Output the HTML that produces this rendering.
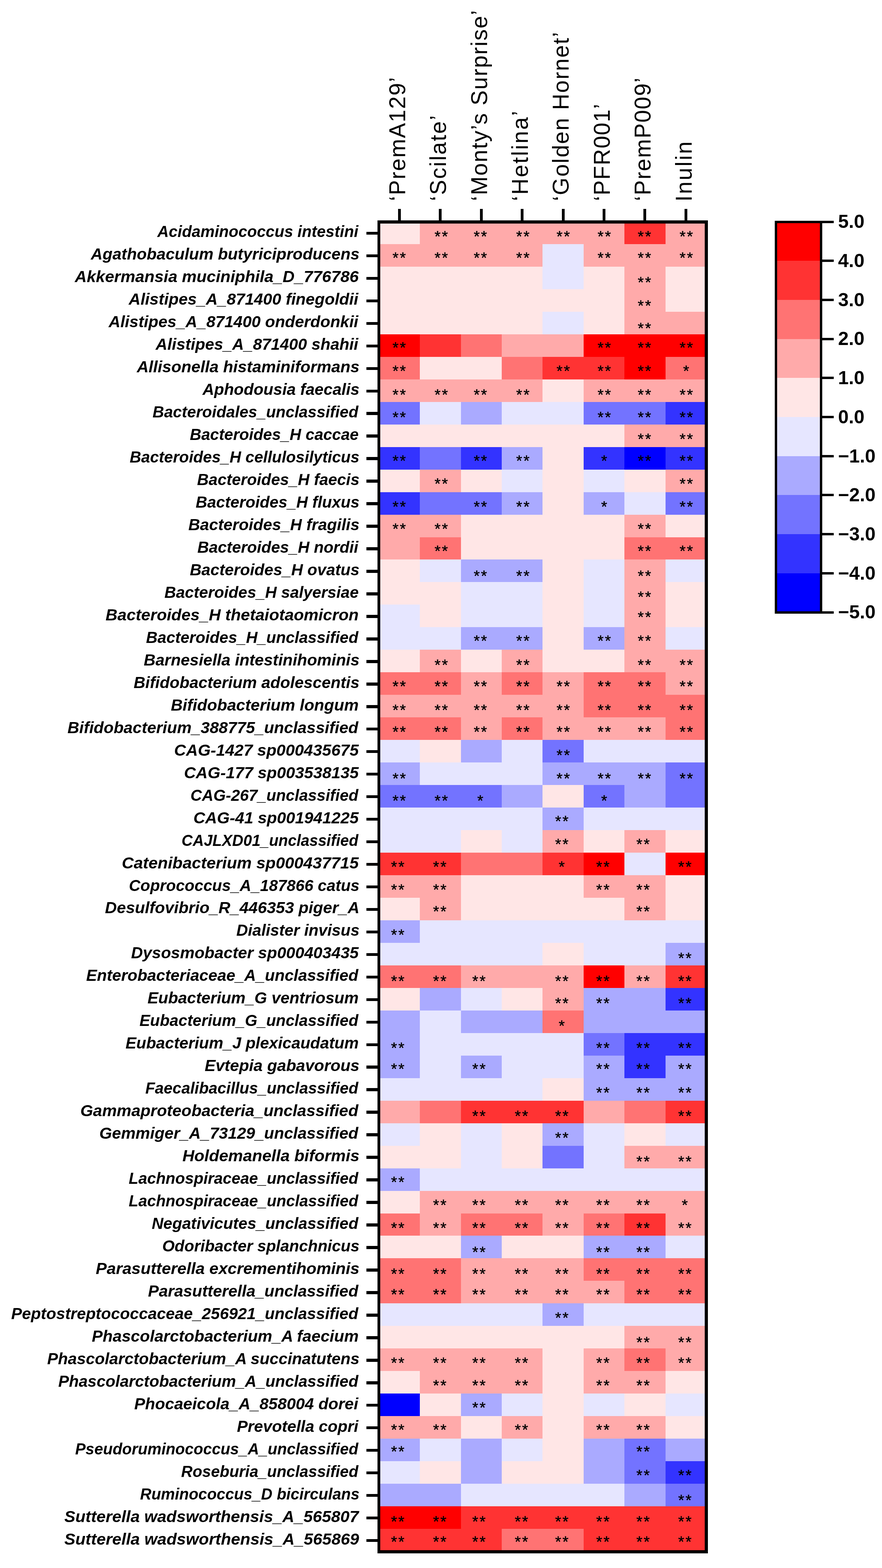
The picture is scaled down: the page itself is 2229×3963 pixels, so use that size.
<!DOCTYPE html><html><head><meta charset="utf-8"><title>Heatmap</title><style>html,body{margin:0;padding:0;background:#fff}body{width:2229px;height:3963px;overflow:hidden}svg{display:block}text{white-space:pre}</style></head><body>
<svg width="2229" height="3963" viewBox="0 0 2229 3963">
<rect width="2229" height="3963" fill="#fff"/>
<g shape-rendering="crispEdges"><rect x="958" y="560" width="103" height="57" fill="#FFE6E6"/><rect x="1061" y="560" width="104" height="57" fill="#FFAAAA"/><rect x="1165" y="560" width="103" height="57" fill="#FFAAAA"/><rect x="1268" y="560" width="103" height="57" fill="#FFAAAA"/><rect x="1371" y="560" width="104" height="57" fill="#FFAAAA"/><rect x="1475" y="560" width="103" height="57" fill="#FFAAAA"/><rect x="1578" y="560" width="104" height="57" fill="#FF3333"/><rect x="1682" y="560" width="103" height="57" fill="#FFAAAA"/><rect x="958" y="617" width="103" height="57" fill="#FFAAAA"/><rect x="1061" y="617" width="104" height="57" fill="#FFAAAA"/><rect x="1165" y="617" width="103" height="57" fill="#FFAAAA"/><rect x="1268" y="617" width="103" height="57" fill="#FFAAAA"/><rect x="1371" y="617" width="104" height="57" fill="#E6E6FF"/><rect x="1475" y="617" width="103" height="57" fill="#FFAAAA"/><rect x="1578" y="617" width="104" height="57" fill="#FFAAAA"/><rect x="1682" y="617" width="103" height="57" fill="#FFAAAA"/><rect x="958" y="674" width="103" height="57" fill="#FFE6E6"/><rect x="1061" y="674" width="104" height="57" fill="#FFE6E6"/><rect x="1165" y="674" width="103" height="57" fill="#FFE6E6"/><rect x="1268" y="674" width="103" height="57" fill="#FFE6E6"/><rect x="1371" y="674" width="104" height="57" fill="#E6E6FF"/><rect x="1475" y="674" width="103" height="57" fill="#FFE6E6"/><rect x="1578" y="674" width="104" height="57" fill="#FFAAAA"/><rect x="1682" y="674" width="103" height="57" fill="#FFE6E6"/><rect x="958" y="731" width="103" height="57" fill="#FFE6E6"/><rect x="1061" y="731" width="104" height="57" fill="#FFE6E6"/><rect x="1165" y="731" width="103" height="57" fill="#FFE6E6"/><rect x="1268" y="731" width="103" height="57" fill="#FFE6E6"/><rect x="1371" y="731" width="104" height="57" fill="#FFE6E6"/><rect x="1475" y="731" width="103" height="57" fill="#FFE6E6"/><rect x="1578" y="731" width="104" height="57" fill="#FFAAAA"/><rect x="1682" y="731" width="103" height="57" fill="#FFE6E6"/><rect x="958" y="788" width="103" height="57" fill="#FFE6E6"/><rect x="1061" y="788" width="104" height="57" fill="#FFE6E6"/><rect x="1165" y="788" width="103" height="57" fill="#FFE6E6"/><rect x="1268" y="788" width="103" height="57" fill="#FFE6E6"/><rect x="1371" y="788" width="104" height="57" fill="#E6E6FF"/><rect x="1475" y="788" width="103" height="57" fill="#FFE6E6"/><rect x="1578" y="788" width="104" height="57" fill="#FFAAAA"/><rect x="1682" y="788" width="103" height="57" fill="#FFAAAA"/><rect x="958" y="845" width="103" height="57" fill="#FF0000"/><rect x="1061" y="845" width="104" height="57" fill="#FF3333"/><rect x="1165" y="845" width="103" height="57" fill="#FF7373"/><rect x="1268" y="845" width="103" height="57" fill="#FFAAAA"/><rect x="1371" y="845" width="104" height="57" fill="#FFAAAA"/><rect x="1475" y="845" width="103" height="57" fill="#FF0000"/><rect x="1578" y="845" width="104" height="57" fill="#FF0000"/><rect x="1682" y="845" width="103" height="57" fill="#FF0000"/><rect x="958" y="902" width="103" height="57" fill="#FF7373"/><rect x="1061" y="902" width="104" height="57" fill="#FFE6E6"/><rect x="1165" y="902" width="103" height="57" fill="#FFE6E6"/><rect x="1268" y="902" width="103" height="57" fill="#FF7373"/><rect x="1371" y="902" width="104" height="57" fill="#FF3333"/><rect x="1475" y="902" width="103" height="57" fill="#FF3333"/><rect x="1578" y="902" width="104" height="57" fill="#FF0000"/><rect x="1682" y="902" width="103" height="57" fill="#FF7373"/><rect x="958" y="959" width="103" height="57" fill="#FFAAAA"/><rect x="1061" y="959" width="104" height="57" fill="#FFAAAA"/><rect x="1165" y="959" width="103" height="57" fill="#FFAAAA"/><rect x="1268" y="959" width="103" height="57" fill="#FFAAAA"/><rect x="1371" y="959" width="104" height="57" fill="#FFE6E6"/><rect x="1475" y="959" width="103" height="57" fill="#FFAAAA"/><rect x="1578" y="959" width="104" height="57" fill="#FFAAAA"/><rect x="1682" y="959" width="103" height="57" fill="#FFAAAA"/><rect x="958" y="1016" width="103" height="57" fill="#7373FF"/><rect x="1061" y="1016" width="104" height="57" fill="#E6E6FF"/><rect x="1165" y="1016" width="103" height="57" fill="#AAAAFF"/><rect x="1268" y="1016" width="103" height="57" fill="#E6E6FF"/><rect x="1371" y="1016" width="104" height="57" fill="#E6E6FF"/><rect x="1475" y="1016" width="103" height="57" fill="#7373FF"/><rect x="1578" y="1016" width="104" height="57" fill="#7373FF"/><rect x="1682" y="1016" width="103" height="57" fill="#3333FF"/><rect x="958" y="1073" width="103" height="57" fill="#FFE6E6"/><rect x="1061" y="1073" width="104" height="57" fill="#FFE6E6"/><rect x="1165" y="1073" width="103" height="57" fill="#FFE6E6"/><rect x="1268" y="1073" width="103" height="57" fill="#FFE6E6"/><rect x="1371" y="1073" width="104" height="57" fill="#FFE6E6"/><rect x="1475" y="1073" width="103" height="57" fill="#FFE6E6"/><rect x="1578" y="1073" width="104" height="57" fill="#FFAAAA"/><rect x="1682" y="1073" width="103" height="57" fill="#FFAAAA"/><rect x="958" y="1130" width="103" height="57" fill="#3333FF"/><rect x="1061" y="1130" width="104" height="57" fill="#7373FF"/><rect x="1165" y="1130" width="103" height="57" fill="#3333FF"/><rect x="1268" y="1130" width="103" height="57" fill="#AAAAFF"/><rect x="1371" y="1130" width="104" height="57" fill="#FFE6E6"/><rect x="1475" y="1130" width="103" height="57" fill="#3333FF"/><rect x="1578" y="1130" width="104" height="57" fill="#0000FF"/><rect x="1682" y="1130" width="103" height="57" fill="#3333FF"/><rect x="958" y="1187" width="103" height="57" fill="#FFE6E6"/><rect x="1061" y="1187" width="104" height="57" fill="#FFAAAA"/><rect x="1165" y="1187" width="103" height="57" fill="#FFE6E6"/><rect x="1268" y="1187" width="103" height="57" fill="#E6E6FF"/><rect x="1371" y="1187" width="104" height="57" fill="#FFE6E6"/><rect x="1475" y="1187" width="103" height="57" fill="#E6E6FF"/><rect x="1578" y="1187" width="104" height="57" fill="#FFE6E6"/><rect x="1682" y="1187" width="103" height="57" fill="#FFAAAA"/><rect x="958" y="1244" width="103" height="57" fill="#3333FF"/><rect x="1061" y="1244" width="104" height="57" fill="#7373FF"/><rect x="1165" y="1244" width="103" height="57" fill="#7373FF"/><rect x="1268" y="1244" width="103" height="57" fill="#AAAAFF"/><rect x="1371" y="1244" width="104" height="57" fill="#FFE6E6"/><rect x="1475" y="1244" width="103" height="57" fill="#AAAAFF"/><rect x="1578" y="1244" width="104" height="57" fill="#E6E6FF"/><rect x="1682" y="1244" width="103" height="57" fill="#7373FF"/><rect x="958" y="1301" width="103" height="57" fill="#FFAAAA"/><rect x="1061" y="1301" width="104" height="57" fill="#FFAAAA"/><rect x="1165" y="1301" width="103" height="57" fill="#FFE6E6"/><rect x="1268" y="1301" width="103" height="57" fill="#FFE6E6"/><rect x="1371" y="1301" width="104" height="57" fill="#FFE6E6"/><rect x="1475" y="1301" width="103" height="57" fill="#FFE6E6"/><rect x="1578" y="1301" width="104" height="57" fill="#FFAAAA"/><rect x="1682" y="1301" width="103" height="57" fill="#FFE6E6"/><rect x="958" y="1358" width="103" height="56" fill="#FFAAAA"/><rect x="1061" y="1358" width="104" height="56" fill="#FF7373"/><rect x="1165" y="1358" width="103" height="56" fill="#FFE6E6"/><rect x="1268" y="1358" width="103" height="56" fill="#FFE6E6"/><rect x="1371" y="1358" width="104" height="56" fill="#FFE6E6"/><rect x="1475" y="1358" width="103" height="56" fill="#FFE6E6"/><rect x="1578" y="1358" width="104" height="56" fill="#FF7373"/><rect x="1682" y="1358" width="103" height="56" fill="#FF7373"/><rect x="958" y="1414" width="103" height="57" fill="#FFE6E6"/><rect x="1061" y="1414" width="104" height="57" fill="#E6E6FF"/><rect x="1165" y="1414" width="103" height="57" fill="#AAAAFF"/><rect x="1268" y="1414" width="103" height="57" fill="#AAAAFF"/><rect x="1371" y="1414" width="104" height="57" fill="#FFE6E6"/><rect x="1475" y="1414" width="103" height="57" fill="#E6E6FF"/><rect x="1578" y="1414" width="104" height="57" fill="#FFAAAA"/><rect x="1682" y="1414" width="103" height="57" fill="#E6E6FF"/><rect x="958" y="1471" width="103" height="57" fill="#FFE6E6"/><rect x="1061" y="1471" width="104" height="57" fill="#FFE6E6"/><rect x="1165" y="1471" width="103" height="57" fill="#E6E6FF"/><rect x="1268" y="1471" width="103" height="57" fill="#E6E6FF"/><rect x="1371" y="1471" width="104" height="57" fill="#FFE6E6"/><rect x="1475" y="1471" width="103" height="57" fill="#E6E6FF"/><rect x="1578" y="1471" width="104" height="57" fill="#FFAAAA"/><rect x="1682" y="1471" width="103" height="57" fill="#FFE6E6"/><rect x="958" y="1528" width="103" height="57" fill="#E6E6FF"/><rect x="1061" y="1528" width="104" height="57" fill="#FFE6E6"/><rect x="1165" y="1528" width="103" height="57" fill="#E6E6FF"/><rect x="1268" y="1528" width="103" height="57" fill="#E6E6FF"/><rect x="1371" y="1528" width="104" height="57" fill="#FFE6E6"/><rect x="1475" y="1528" width="103" height="57" fill="#E6E6FF"/><rect x="1578" y="1528" width="104" height="57" fill="#FFAAAA"/><rect x="1682" y="1528" width="103" height="57" fill="#FFE6E6"/><rect x="958" y="1585" width="103" height="57" fill="#E6E6FF"/><rect x="1061" y="1585" width="104" height="57" fill="#E6E6FF"/><rect x="1165" y="1585" width="103" height="57" fill="#AAAAFF"/><rect x="1268" y="1585" width="103" height="57" fill="#AAAAFF"/><rect x="1371" y="1585" width="104" height="57" fill="#FFE6E6"/><rect x="1475" y="1585" width="103" height="57" fill="#AAAAFF"/><rect x="1578" y="1585" width="104" height="57" fill="#FFAAAA"/><rect x="1682" y="1585" width="103" height="57" fill="#E6E6FF"/><rect x="958" y="1642" width="103" height="57" fill="#FFE6E6"/><rect x="1061" y="1642" width="104" height="57" fill="#FFAAAA"/><rect x="1165" y="1642" width="103" height="57" fill="#FFE6E6"/><rect x="1268" y="1642" width="103" height="57" fill="#FFAAAA"/><rect x="1371" y="1642" width="104" height="57" fill="#FFE6E6"/><rect x="1475" y="1642" width="103" height="57" fill="#FFE6E6"/><rect x="1578" y="1642" width="104" height="57" fill="#FFAAAA"/><rect x="1682" y="1642" width="103" height="57" fill="#FFAAAA"/><rect x="958" y="1699" width="103" height="57" fill="#FF7373"/><rect x="1061" y="1699" width="104" height="57" fill="#FF7373"/><rect x="1165" y="1699" width="103" height="57" fill="#FFAAAA"/><rect x="1268" y="1699" width="103" height="57" fill="#FF7373"/><rect x="1371" y="1699" width="104" height="57" fill="#FFAAAA"/><rect x="1475" y="1699" width="103" height="57" fill="#FF7373"/><rect x="1578" y="1699" width="104" height="57" fill="#FF7373"/><rect x="1682" y="1699" width="103" height="57" fill="#FFAAAA"/><rect x="958" y="1756" width="103" height="57" fill="#FFAAAA"/><rect x="1061" y="1756" width="104" height="57" fill="#FFAAAA"/><rect x="1165" y="1756" width="103" height="57" fill="#FFAAAA"/><rect x="1268" y="1756" width="103" height="57" fill="#FFAAAA"/><rect x="1371" y="1756" width="104" height="57" fill="#FFAAAA"/><rect x="1475" y="1756" width="103" height="57" fill="#FF7373"/><rect x="1578" y="1756" width="104" height="57" fill="#FF7373"/><rect x="1682" y="1756" width="103" height="57" fill="#FF7373"/><rect x="958" y="1813" width="103" height="57" fill="#FF7373"/><rect x="1061" y="1813" width="104" height="57" fill="#FF7373"/><rect x="1165" y="1813" width="103" height="57" fill="#FFAAAA"/><rect x="1268" y="1813" width="103" height="57" fill="#FF7373"/><rect x="1371" y="1813" width="104" height="57" fill="#FFAAAA"/><rect x="1475" y="1813" width="103" height="57" fill="#FFAAAA"/><rect x="1578" y="1813" width="104" height="57" fill="#FFAAAA"/><rect x="1682" y="1813" width="103" height="57" fill="#FF7373"/><rect x="958" y="1870" width="103" height="57" fill="#E6E6FF"/><rect x="1061" y="1870" width="104" height="57" fill="#FFE6E6"/><rect x="1165" y="1870" width="103" height="57" fill="#AAAAFF"/><rect x="1268" y="1870" width="103" height="57" fill="#E6E6FF"/><rect x="1371" y="1870" width="104" height="57" fill="#7373FF"/><rect x="1475" y="1870" width="103" height="57" fill="#E6E6FF"/><rect x="1578" y="1870" width="104" height="57" fill="#E6E6FF"/><rect x="1682" y="1870" width="103" height="57" fill="#E6E6FF"/><rect x="958" y="1927" width="103" height="57" fill="#AAAAFF"/><rect x="1061" y="1927" width="104" height="57" fill="#E6E6FF"/><rect x="1165" y="1927" width="103" height="57" fill="#E6E6FF"/><rect x="1268" y="1927" width="103" height="57" fill="#E6E6FF"/><rect x="1371" y="1927" width="104" height="57" fill="#AAAAFF"/><rect x="1475" y="1927" width="103" height="57" fill="#AAAAFF"/><rect x="1578" y="1927" width="104" height="57" fill="#AAAAFF"/><rect x="1682" y="1927" width="103" height="57" fill="#7373FF"/><rect x="958" y="1984" width="103" height="57" fill="#7373FF"/><rect x="1061" y="1984" width="104" height="57" fill="#7373FF"/><rect x="1165" y="1984" width="103" height="57" fill="#7373FF"/><rect x="1268" y="1984" width="103" height="57" fill="#AAAAFF"/><rect x="1371" y="1984" width="104" height="57" fill="#FFE6E6"/><rect x="1475" y="1984" width="103" height="57" fill="#7373FF"/><rect x="1578" y="1984" width="104" height="57" fill="#AAAAFF"/><rect x="1682" y="1984" width="103" height="57" fill="#7373FF"/><rect x="958" y="2041" width="103" height="57" fill="#E6E6FF"/><rect x="1061" y="2041" width="104" height="57" fill="#E6E6FF"/><rect x="1165" y="2041" width="103" height="57" fill="#E6E6FF"/><rect x="1268" y="2041" width="103" height="57" fill="#E6E6FF"/><rect x="1371" y="2041" width="104" height="57" fill="#AAAAFF"/><rect x="1475" y="2041" width="103" height="57" fill="#E6E6FF"/><rect x="1578" y="2041" width="104" height="57" fill="#E6E6FF"/><rect x="1682" y="2041" width="103" height="57" fill="#E6E6FF"/><rect x="958" y="2098" width="103" height="57" fill="#E6E6FF"/><rect x="1061" y="2098" width="104" height="57" fill="#E6E6FF"/><rect x="1165" y="2098" width="103" height="57" fill="#FFE6E6"/><rect x="1268" y="2098" width="103" height="57" fill="#E6E6FF"/><rect x="1371" y="2098" width="104" height="57" fill="#FFAAAA"/><rect x="1475" y="2098" width="103" height="57" fill="#FFE6E6"/><rect x="1578" y="2098" width="104" height="57" fill="#FFAAAA"/><rect x="1682" y="2098" width="103" height="57" fill="#FFE6E6"/><rect x="958" y="2155" width="103" height="57" fill="#FF3333"/><rect x="1061" y="2155" width="104" height="57" fill="#FF3333"/><rect x="1165" y="2155" width="103" height="57" fill="#FF7373"/><rect x="1268" y="2155" width="103" height="57" fill="#FF7373"/><rect x="1371" y="2155" width="104" height="57" fill="#FF3333"/><rect x="1475" y="2155" width="103" height="57" fill="#FF0000"/><rect x="1578" y="2155" width="104" height="57" fill="#E6E6FF"/><rect x="1682" y="2155" width="103" height="57" fill="#FF0000"/><rect x="958" y="2212" width="103" height="57" fill="#FFAAAA"/><rect x="1061" y="2212" width="104" height="57" fill="#FFAAAA"/><rect x="1165" y="2212" width="103" height="57" fill="#FFE6E6"/><rect x="1268" y="2212" width="103" height="57" fill="#FFE6E6"/><rect x="1371" y="2212" width="104" height="57" fill="#FFE6E6"/><rect x="1475" y="2212" width="103" height="57" fill="#FFAAAA"/><rect x="1578" y="2212" width="104" height="57" fill="#FFAAAA"/><rect x="1682" y="2212" width="103" height="57" fill="#FFE6E6"/><rect x="958" y="2269" width="103" height="57" fill="#FFE6E6"/><rect x="1061" y="2269" width="104" height="57" fill="#FFAAAA"/><rect x="1165" y="2269" width="103" height="57" fill="#FFE6E6"/><rect x="1268" y="2269" width="103" height="57" fill="#FFE6E6"/><rect x="1371" y="2269" width="104" height="57" fill="#FFE6E6"/><rect x="1475" y="2269" width="103" height="57" fill="#FFE6E6"/><rect x="1578" y="2269" width="104" height="57" fill="#FFAAAA"/><rect x="1682" y="2269" width="103" height="57" fill="#FFE6E6"/><rect x="958" y="2326" width="103" height="57" fill="#AAAAFF"/><rect x="1061" y="2326" width="104" height="57" fill="#E6E6FF"/><rect x="1165" y="2326" width="103" height="57" fill="#E6E6FF"/><rect x="1268" y="2326" width="103" height="57" fill="#E6E6FF"/><rect x="1371" y="2326" width="104" height="57" fill="#E6E6FF"/><rect x="1475" y="2326" width="103" height="57" fill="#E6E6FF"/><rect x="1578" y="2326" width="104" height="57" fill="#E6E6FF"/><rect x="1682" y="2326" width="103" height="57" fill="#E6E6FF"/><rect x="958" y="2383" width="103" height="57" fill="#E6E6FF"/><rect x="1061" y="2383" width="104" height="57" fill="#E6E6FF"/><rect x="1165" y="2383" width="103" height="57" fill="#E6E6FF"/><rect x="1268" y="2383" width="103" height="57" fill="#E6E6FF"/><rect x="1371" y="2383" width="104" height="57" fill="#FFE6E6"/><rect x="1475" y="2383" width="103" height="57" fill="#E6E6FF"/><rect x="1578" y="2383" width="104" height="57" fill="#E6E6FF"/><rect x="1682" y="2383" width="103" height="57" fill="#AAAAFF"/><rect x="958" y="2440" width="103" height="57" fill="#FF7373"/><rect x="1061" y="2440" width="104" height="57" fill="#FF7373"/><rect x="1165" y="2440" width="103" height="57" fill="#FFAAAA"/><rect x="1268" y="2440" width="103" height="57" fill="#FFAAAA"/><rect x="1371" y="2440" width="104" height="57" fill="#FFAAAA"/><rect x="1475" y="2440" width="103" height="57" fill="#FF0000"/><rect x="1578" y="2440" width="104" height="57" fill="#FFAAAA"/><rect x="1682" y="2440" width="103" height="57" fill="#FF3333"/><rect x="958" y="2497" width="103" height="57" fill="#FFE6E6"/><rect x="1061" y="2497" width="104" height="57" fill="#AAAAFF"/><rect x="1165" y="2497" width="103" height="57" fill="#E6E6FF"/><rect x="1268" y="2497" width="103" height="57" fill="#FFE6E6"/><rect x="1371" y="2497" width="104" height="57" fill="#FFAAAA"/><rect x="1475" y="2497" width="103" height="57" fill="#AAAAFF"/><rect x="1578" y="2497" width="104" height="57" fill="#AAAAFF"/><rect x="1682" y="2497" width="103" height="57" fill="#3333FF"/><rect x="958" y="2554" width="103" height="57" fill="#AAAAFF"/><rect x="1061" y="2554" width="104" height="57" fill="#E6E6FF"/><rect x="1165" y="2554" width="103" height="57" fill="#AAAAFF"/><rect x="1268" y="2554" width="103" height="57" fill="#AAAAFF"/><rect x="1371" y="2554" width="104" height="57" fill="#FF7373"/><rect x="1475" y="2554" width="103" height="57" fill="#AAAAFF"/><rect x="1578" y="2554" width="104" height="57" fill="#AAAAFF"/><rect x="1682" y="2554" width="103" height="57" fill="#AAAAFF"/><rect x="958" y="2611" width="103" height="57" fill="#AAAAFF"/><rect x="1061" y="2611" width="104" height="57" fill="#E6E6FF"/><rect x="1165" y="2611" width="103" height="57" fill="#E6E6FF"/><rect x="1268" y="2611" width="103" height="57" fill="#E6E6FF"/><rect x="1371" y="2611" width="104" height="57" fill="#E6E6FF"/><rect x="1475" y="2611" width="103" height="57" fill="#7373FF"/><rect x="1578" y="2611" width="104" height="57" fill="#3333FF"/><rect x="1682" y="2611" width="103" height="57" fill="#3333FF"/><rect x="958" y="2668" width="103" height="57" fill="#AAAAFF"/><rect x="1061" y="2668" width="104" height="57" fill="#E6E6FF"/><rect x="1165" y="2668" width="103" height="57" fill="#AAAAFF"/><rect x="1268" y="2668" width="103" height="57" fill="#E6E6FF"/><rect x="1371" y="2668" width="104" height="57" fill="#E6E6FF"/><rect x="1475" y="2668" width="103" height="57" fill="#AAAAFF"/><rect x="1578" y="2668" width="104" height="57" fill="#3333FF"/><rect x="1682" y="2668" width="103" height="57" fill="#AAAAFF"/><rect x="958" y="2725" width="103" height="57" fill="#E6E6FF"/><rect x="1061" y="2725" width="104" height="57" fill="#E6E6FF"/><rect x="1165" y="2725" width="103" height="57" fill="#E6E6FF"/><rect x="1268" y="2725" width="103" height="57" fill="#E6E6FF"/><rect x="1371" y="2725" width="104" height="57" fill="#FFE6E6"/><rect x="1475" y="2725" width="103" height="57" fill="#AAAAFF"/><rect x="1578" y="2725" width="104" height="57" fill="#AAAAFF"/><rect x="1682" y="2725" width="103" height="57" fill="#AAAAFF"/><rect x="958" y="2782" width="103" height="57" fill="#FFAAAA"/><rect x="1061" y="2782" width="104" height="57" fill="#FF7373"/><rect x="1165" y="2782" width="103" height="57" fill="#FF3333"/><rect x="1268" y="2782" width="103" height="57" fill="#FF3333"/><rect x="1371" y="2782" width="104" height="57" fill="#FF3333"/><rect x="1475" y="2782" width="103" height="57" fill="#FFAAAA"/><rect x="1578" y="2782" width="104" height="57" fill="#FF7373"/><rect x="1682" y="2782" width="103" height="57" fill="#FF3333"/><rect x="958" y="2839" width="103" height="57" fill="#E6E6FF"/><rect x="1061" y="2839" width="104" height="57" fill="#FFE6E6"/><rect x="1165" y="2839" width="103" height="57" fill="#E6E6FF"/><rect x="1268" y="2839" width="103" height="57" fill="#FFE6E6"/><rect x="1371" y="2839" width="104" height="57" fill="#AAAAFF"/><rect x="1475" y="2839" width="103" height="57" fill="#E6E6FF"/><rect x="1578" y="2839" width="104" height="57" fill="#FFE6E6"/><rect x="1682" y="2839" width="103" height="57" fill="#E6E6FF"/><rect x="958" y="2896" width="103" height="57" fill="#FFE6E6"/><rect x="1061" y="2896" width="104" height="57" fill="#FFE6E6"/><rect x="1165" y="2896" width="103" height="57" fill="#E6E6FF"/><rect x="1268" y="2896" width="103" height="57" fill="#FFE6E6"/><rect x="1371" y="2896" width="104" height="57" fill="#7373FF"/><rect x="1475" y="2896" width="103" height="57" fill="#E6E6FF"/><rect x="1578" y="2896" width="104" height="57" fill="#FFAAAA"/><rect x="1682" y="2896" width="103" height="57" fill="#FFAAAA"/><rect x="958" y="2953" width="103" height="57" fill="#AAAAFF"/><rect x="1061" y="2953" width="104" height="57" fill="#E6E6FF"/><rect x="1165" y="2953" width="103" height="57" fill="#E6E6FF"/><rect x="1268" y="2953" width="103" height="57" fill="#E6E6FF"/><rect x="1371" y="2953" width="104" height="57" fill="#E6E6FF"/><rect x="1475" y="2953" width="103" height="57" fill="#E6E6FF"/><rect x="1578" y="2953" width="104" height="57" fill="#E6E6FF"/><rect x="1682" y="2953" width="103" height="57" fill="#E6E6FF"/><rect x="958" y="3010" width="103" height="57" fill="#FFE6E6"/><rect x="1061" y="3010" width="104" height="57" fill="#FFAAAA"/><rect x="1165" y="3010" width="103" height="57" fill="#FFAAAA"/><rect x="1268" y="3010" width="103" height="57" fill="#FFAAAA"/><rect x="1371" y="3010" width="104" height="57" fill="#FFAAAA"/><rect x="1475" y="3010" width="103" height="57" fill="#FFAAAA"/><rect x="1578" y="3010" width="104" height="57" fill="#FFAAAA"/><rect x="1682" y="3010" width="103" height="57" fill="#FFAAAA"/><rect x="958" y="3067" width="103" height="56" fill="#FF7373"/><rect x="1061" y="3067" width="104" height="56" fill="#FFAAAA"/><rect x="1165" y="3067" width="103" height="56" fill="#FF7373"/><rect x="1268" y="3067" width="103" height="56" fill="#FF7373"/><rect x="1371" y="3067" width="104" height="56" fill="#FFAAAA"/><rect x="1475" y="3067" width="103" height="56" fill="#FF7373"/><rect x="1578" y="3067" width="104" height="56" fill="#FF3333"/><rect x="1682" y="3067" width="103" height="56" fill="#FFAAAA"/><rect x="958" y="3123" width="103" height="57" fill="#FFE6E6"/><rect x="1061" y="3123" width="104" height="57" fill="#FFE6E6"/><rect x="1165" y="3123" width="103" height="57" fill="#AAAAFF"/><rect x="1268" y="3123" width="103" height="57" fill="#FFE6E6"/><rect x="1371" y="3123" width="104" height="57" fill="#FFE6E6"/><rect x="1475" y="3123" width="103" height="57" fill="#AAAAFF"/><rect x="1578" y="3123" width="104" height="57" fill="#AAAAFF"/><rect x="1682" y="3123" width="103" height="57" fill="#E6E6FF"/><rect x="958" y="3180" width="103" height="57" fill="#FF7373"/><rect x="1061" y="3180" width="104" height="57" fill="#FF7373"/><rect x="1165" y="3180" width="103" height="57" fill="#FFAAAA"/><rect x="1268" y="3180" width="103" height="57" fill="#FFAAAA"/><rect x="1371" y="3180" width="104" height="57" fill="#FFAAAA"/><rect x="1475" y="3180" width="103" height="57" fill="#FF7373"/><rect x="1578" y="3180" width="104" height="57" fill="#FF7373"/><rect x="1682" y="3180" width="103" height="57" fill="#FF7373"/><rect x="958" y="3237" width="103" height="57" fill="#FF7373"/><rect x="1061" y="3237" width="104" height="57" fill="#FF7373"/><rect x="1165" y="3237" width="103" height="57" fill="#FFAAAA"/><rect x="1268" y="3237" width="103" height="57" fill="#FFAAAA"/><rect x="1371" y="3237" width="104" height="57" fill="#FFAAAA"/><rect x="1475" y="3237" width="103" height="57" fill="#FFAAAA"/><rect x="1578" y="3237" width="104" height="57" fill="#FF7373"/><rect x="1682" y="3237" width="103" height="57" fill="#FF7373"/><rect x="958" y="3294" width="103" height="57" fill="#E6E6FF"/><rect x="1061" y="3294" width="104" height="57" fill="#E6E6FF"/><rect x="1165" y="3294" width="103" height="57" fill="#E6E6FF"/><rect x="1268" y="3294" width="103" height="57" fill="#E6E6FF"/><rect x="1371" y="3294" width="104" height="57" fill="#AAAAFF"/><rect x="1475" y="3294" width="103" height="57" fill="#E6E6FF"/><rect x="1578" y="3294" width="104" height="57" fill="#E6E6FF"/><rect x="1682" y="3294" width="103" height="57" fill="#E6E6FF"/><rect x="958" y="3351" width="103" height="57" fill="#FFE6E6"/><rect x="1061" y="3351" width="104" height="57" fill="#FFE6E6"/><rect x="1165" y="3351" width="103" height="57" fill="#FFE6E6"/><rect x="1268" y="3351" width="103" height="57" fill="#FFE6E6"/><rect x="1371" y="3351" width="104" height="57" fill="#FFE6E6"/><rect x="1475" y="3351" width="103" height="57" fill="#FFE6E6"/><rect x="1578" y="3351" width="104" height="57" fill="#FFAAAA"/><rect x="1682" y="3351" width="103" height="57" fill="#FFAAAA"/><rect x="958" y="3408" width="103" height="57" fill="#FFAAAA"/><rect x="1061" y="3408" width="104" height="57" fill="#FFAAAA"/><rect x="1165" y="3408" width="103" height="57" fill="#FFAAAA"/><rect x="1268" y="3408" width="103" height="57" fill="#FFAAAA"/><rect x="1371" y="3408" width="104" height="57" fill="#FFE6E6"/><rect x="1475" y="3408" width="103" height="57" fill="#FFAAAA"/><rect x="1578" y="3408" width="104" height="57" fill="#FF7373"/><rect x="1682" y="3408" width="103" height="57" fill="#FFAAAA"/><rect x="958" y="3465" width="103" height="57" fill="#FFE6E6"/><rect x="1061" y="3465" width="104" height="57" fill="#FFAAAA"/><rect x="1165" y="3465" width="103" height="57" fill="#FFAAAA"/><rect x="1268" y="3465" width="103" height="57" fill="#FFAAAA"/><rect x="1371" y="3465" width="104" height="57" fill="#FFE6E6"/><rect x="1475" y="3465" width="103" height="57" fill="#FFAAAA"/><rect x="1578" y="3465" width="104" height="57" fill="#FFAAAA"/><rect x="1682" y="3465" width="103" height="57" fill="#FFE6E6"/><rect x="958" y="3522" width="103" height="57" fill="#0000FF"/><rect x="1061" y="3522" width="104" height="57" fill="#FFE6E6"/><rect x="1165" y="3522" width="103" height="57" fill="#AAAAFF"/><rect x="1268" y="3522" width="103" height="57" fill="#E6E6FF"/><rect x="1371" y="3522" width="104" height="57" fill="#FFE6E6"/><rect x="1475" y="3522" width="103" height="57" fill="#E6E6FF"/><rect x="1578" y="3522" width="104" height="57" fill="#FFE6E6"/><rect x="1682" y="3522" width="103" height="57" fill="#E6E6FF"/><rect x="958" y="3579" width="103" height="57" fill="#FFAAAA"/><rect x="1061" y="3579" width="104" height="57" fill="#FFAAAA"/><rect x="1165" y="3579" width="103" height="57" fill="#FFE6E6"/><rect x="1268" y="3579" width="103" height="57" fill="#FFAAAA"/><rect x="1371" y="3579" width="104" height="57" fill="#FFE6E6"/><rect x="1475" y="3579" width="103" height="57" fill="#FFAAAA"/><rect x="1578" y="3579" width="104" height="57" fill="#FFAAAA"/><rect x="1682" y="3579" width="103" height="57" fill="#FFE6E6"/><rect x="958" y="3636" width="103" height="57" fill="#AAAAFF"/><rect x="1061" y="3636" width="104" height="57" fill="#E6E6FF"/><rect x="1165" y="3636" width="103" height="57" fill="#AAAAFF"/><rect x="1268" y="3636" width="103" height="57" fill="#E6E6FF"/><rect x="1371" y="3636" width="104" height="57" fill="#FFE6E6"/><rect x="1475" y="3636" width="103" height="57" fill="#AAAAFF"/><rect x="1578" y="3636" width="104" height="57" fill="#7373FF"/><rect x="1682" y="3636" width="103" height="57" fill="#AAAAFF"/><rect x="958" y="3693" width="103" height="57" fill="#E6E6FF"/><rect x="1061" y="3693" width="104" height="57" fill="#FFE6E6"/><rect x="1165" y="3693" width="103" height="57" fill="#AAAAFF"/><rect x="1268" y="3693" width="103" height="57" fill="#FFE6E6"/><rect x="1371" y="3693" width="104" height="57" fill="#FFE6E6"/><rect x="1475" y="3693" width="103" height="57" fill="#AAAAFF"/><rect x="1578" y="3693" width="104" height="57" fill="#7373FF"/><rect x="1682" y="3693" width="103" height="57" fill="#3333FF"/><rect x="958" y="3750" width="103" height="57" fill="#AAAAFF"/><rect x="1061" y="3750" width="104" height="57" fill="#AAAAFF"/><rect x="1165" y="3750" width="103" height="57" fill="#E6E6FF"/><rect x="1268" y="3750" width="103" height="57" fill="#E6E6FF"/><rect x="1371" y="3750" width="104" height="57" fill="#E6E6FF"/><rect x="1475" y="3750" width="103" height="57" fill="#E6E6FF"/><rect x="1578" y="3750" width="104" height="57" fill="#AAAAFF"/><rect x="1682" y="3750" width="103" height="57" fill="#7373FF"/><rect x="958" y="3807" width="103" height="57" fill="#FF0000"/><rect x="1061" y="3807" width="104" height="57" fill="#FF0000"/><rect x="1165" y="3807" width="103" height="57" fill="#FF3333"/><rect x="1268" y="3807" width="103" height="57" fill="#FF3333"/><rect x="1371" y="3807" width="104" height="57" fill="#FF3333"/><rect x="1475" y="3807" width="103" height="57" fill="#FF3333"/><rect x="1578" y="3807" width="104" height="57" fill="#FF3333"/><rect x="1682" y="3807" width="103" height="57" fill="#FF3333"/><rect x="958" y="3864" width="103" height="57" fill="#FF3333"/><rect x="1061" y="3864" width="104" height="57" fill="#FF3333"/><rect x="1165" y="3864" width="103" height="57" fill="#FF3333"/><rect x="1268" y="3864" width="103" height="57" fill="#FF7373"/><rect x="1371" y="3864" width="104" height="57" fill="#FF7373"/><rect x="1475" y="3864" width="103" height="57" fill="#FF3333"/><rect x="1578" y="3864" width="104" height="57" fill="#FF3333"/><rect x="1682" y="3864" width="103" height="57" fill="#FF3333"/></g>
<g font-family="Liberation Sans, Arial, sans-serif" font-size="39" letter-spacing="3.3" fill="#000" stroke="#000" stroke-width="0.6" stroke-linejoin="round"><text x="1098.22" y="611.18">**</text><text x="1197.13" y="611.18">**</text><text x="1304.54" y="611.18">**</text><text x="1406.56" y="611.18">**</text><text x="1510.37" y="611.18">**</text><text x="1611.78" y="611.18">**</text><text x="1717.59" y="611.18">**</text><text x="991.91" y="664.75">**</text><text x="1098.22" y="664.75">**</text><text x="1197.13" y="664.75">**</text><text x="1304.54" y="664.75">**</text><text x="1510.37" y="664.75">**</text><text x="1611.78" y="664.75">**</text><text x="1717.59" y="664.75">**</text><text x="1611.78" y="726.72">**</text><text x="1611.78" y="785.98">**</text><text x="1611.78" y="842.65">**</text><text x="991.91" y="892.21">**</text><text x="1510.37" y="892.21">**</text><text x="1611.78" y="892.21">**</text><text x="1717.59" y="892.21">**</text><text x="991.91" y="950.58">**</text><text x="1406.56" y="950.58">**</text><text x="1510.37" y="950.58">**</text><text x="1611.78" y="950.58">**</text><text x="1726.59" y="950.58">*</text><text x="991.91" y="1010.75">**</text><text x="1098.22" y="1010.75">**</text><text x="1197.13" y="1010.75">**</text><text x="1304.54" y="1010.75">**</text><text x="1510.37" y="1010.75">**</text><text x="1611.78" y="1010.75">**</text><text x="1717.59" y="1010.75">**</text><text x="991.91" y="1067.51">**</text><text x="1510.37" y="1067.51">**</text><text x="1611.78" y="1067.51">**</text><text x="1717.59" y="1067.51">**</text><text x="1611.78" y="1122.98">**</text><text x="1717.59" y="1122.98">**</text><text x="991.91" y="1178.14">**</text><text x="1197.13" y="1178.14">**</text><text x="1304.54" y="1178.14">**</text><text x="1519.37" y="1178.14">*</text><text x="1611.78" y="1178.14">**</text><text x="1717.59" y="1178.14">**</text><text x="1098.22" y="1236.31">**</text><text x="1717.59" y="1236.31">**</text><text x="991.91" y="1293.88">**</text><text x="1197.13" y="1293.88">**</text><text x="1304.54" y="1293.88">**</text><text x="1519.37" y="1293.88">*</text><text x="1717.59" y="1293.88">**</text><text x="991.91" y="1350.04">**</text><text x="1098.22" y="1350.04">**</text><text x="1611.78" y="1350.04">**</text><text x="1098.22" y="1406.31">**</text><text x="1611.78" y="1406.31">**</text><text x="1717.59" y="1406.31">**</text><text x="1197.13" y="1468.57">**</text><text x="1304.54" y="1468.57">**</text><text x="1611.78" y="1468.57">**</text><text x="1611.78" y="1521.54">**</text><text x="1611.78" y="1573.21">**</text><text x="1197.13" y="1633.47">**</text><text x="1304.54" y="1633.47">**</text><text x="1510.37" y="1633.47">**</text><text x="1611.78" y="1633.47">**</text><text x="1098.22" y="1694.14">**</text><text x="1304.54" y="1694.14">**</text><text x="1611.78" y="1694.14">**</text><text x="1717.59" y="1694.14">**</text><text x="991.91" y="1747.91">**</text><text x="1098.22" y="1747.91">**</text><text x="1197.13" y="1747.91">**</text><text x="1304.54" y="1747.91">**</text><text x="1406.56" y="1747.91">**</text><text x="1510.37" y="1747.91">**</text><text x="1611.78" y="1747.91">**</text><text x="1717.59" y="1747.91">**</text><text x="991.91" y="1808.07">**</text><text x="1098.22" y="1808.07">**</text><text x="1197.13" y="1808.07">**</text><text x="1304.54" y="1808.07">**</text><text x="1406.56" y="1808.07">**</text><text x="1510.37" y="1808.07">**</text><text x="1611.78" y="1808.07">**</text><text x="1717.59" y="1808.07">**</text><text x="991.91" y="1863.34">**</text><text x="1098.22" y="1863.34">**</text><text x="1197.13" y="1863.34">**</text><text x="1304.54" y="1863.34">**</text><text x="1406.56" y="1863.34">**</text><text x="1510.37" y="1863.34">**</text><text x="1611.78" y="1863.34">**</text><text x="1717.59" y="1863.34">**</text><text x="1406.56" y="1921.9">**</text><text x="991.91" y="1981.17">**</text><text x="1406.56" y="1981.17">**</text><text x="1510.37" y="1981.17">**</text><text x="1611.78" y="1981.17">**</text><text x="1717.59" y="1981.17">**</text><text x="991.91" y="2036.84">**</text><text x="1098.22" y="2036.84">**</text><text x="1206.13" y="2036.84">*</text><text x="1519.37" y="2036.84">*</text><text x="1402.96" y="2089">**</text><text x="1402.96" y="2147.37">**</text><text x="1608.18" y="2147.37">**</text><text x="988.31" y="2203.53">**</text><text x="1094.62" y="2203.53">**</text><text x="1411.96" y="2203.53">*</text><text x="1506.77" y="2203.53">**</text><text x="1713.99" y="2203.53">**</text><text x="988.31" y="2262.3">**</text><text x="1094.62" y="2262.3">**</text><text x="1506.77" y="2262.3">**</text><text x="1608.18" y="2262.3">**</text><text x="1094.62" y="2317.37">**</text><text x="1608.18" y="2317.37">**</text><text x="988.31" y="2376.23">**</text><text x="1713.99" y="2435.3">**</text><text x="988.31" y="2493.26">**</text><text x="1094.62" y="2493.26">**</text><text x="1193.53" y="2493.26">**</text><text x="1402.96" y="2493.26">**</text><text x="1506.77" y="2493.26">**</text><text x="1608.18" y="2493.26">**</text><text x="1713.99" y="2493.26">**</text><text x="1402.96" y="2549.23">**</text><text x="1506.77" y="2549.23">**</text><text x="1713.99" y="2549.23">**</text><text x="1411.96" y="2605.5">*</text><text x="988.31" y="2661.66">**</text><text x="1506.77" y="2661.66">**</text><text x="1608.18" y="2661.66">**</text><text x="1713.99" y="2661.66">**</text><text x="988.31" y="2714.63">**</text><text x="1193.53" y="2714.63">**</text><text x="1506.77" y="2714.63">**</text><text x="1608.18" y="2714.63">**</text><text x="1713.99" y="2714.63">**</text><text x="1506.77" y="2774.69">**</text><text x="1608.18" y="2774.69">**</text><text x="1713.99" y="2774.69">**</text><text x="1193.53" y="2833.86">**</text><text x="1300.94" y="2833.86">**</text><text x="1402.96" y="2833.86">**</text><text x="1713.99" y="2833.86">**</text><text x="1402.96" y="2889.33">**</text><text x="1608.18" y="2949.29">**</text><text x="1713.99" y="2949.29">**</text><text x="988.31" y="3001.46">**</text><text x="1094.62" y="3058.93">**</text><text x="1193.53" y="3058.93">**</text><text x="1300.94" y="3058.93">**</text><text x="1402.96" y="3058.93">**</text><text x="1506.77" y="3058.93">**</text><text x="1608.18" y="3058.93">**</text><text x="1722.99" y="3058.93">*</text><text x="988.31" y="3117.39">**</text><text x="1094.62" y="3117.39">**</text><text x="1193.53" y="3117.39">**</text><text x="1300.94" y="3117.39">**</text><text x="1402.96" y="3117.39">**</text><text x="1506.77" y="3117.39">**</text><text x="1608.18" y="3117.39">**</text><text x="1713.99" y="3117.39">**</text><text x="1193.53" y="3178.36">**</text><text x="1506.77" y="3178.36">**</text><text x="1608.18" y="3178.36">**</text><text x="988.31" y="3233.32">**</text><text x="1094.62" y="3233.32">**</text><text x="1193.53" y="3233.32">**</text><text x="1300.94" y="3233.32">**</text><text x="1402.96" y="3233.32">**</text><text x="1506.77" y="3233.32">**</text><text x="1608.18" y="3233.32">**</text><text x="1713.99" y="3233.32">**</text><text x="988.31" y="3285.49">**</text><text x="1094.62" y="3285.49">**</text><text x="1193.53" y="3285.49">**</text><text x="1300.94" y="3285.49">**</text><text x="1402.96" y="3285.49">**</text><text x="1506.77" y="3285.49">**</text><text x="1608.18" y="3285.49">**</text><text x="1713.99" y="3285.49">**</text><text x="1402.96" y="3344.36">**</text><text x="1608.18" y="3406.22">**</text><text x="1713.99" y="3406.22">**</text><text x="988.31" y="3458.29">**</text><text x="1094.62" y="3458.29">**</text><text x="1193.53" y="3458.29">**</text><text x="1300.94" y="3458.29">**</text><text x="1506.77" y="3458.29">**</text><text x="1608.18" y="3458.29">**</text><text x="1713.99" y="3458.29">**</text><text x="1094.62" y="3515.35">**</text><text x="1193.53" y="3515.35">**</text><text x="1300.94" y="3515.35">**</text><text x="1506.77" y="3515.35">**</text><text x="1608.18" y="3515.35">**</text><text x="1193.53" y="3570.92">**</text><text x="988.31" y="3626.99">**</text><text x="1094.62" y="3626.99">**</text><text x="1300.94" y="3626.99">**</text><text x="1506.77" y="3626.99">**</text><text x="1608.18" y="3626.99">**</text><text x="988.31" y="3682.05">**</text><text x="1608.18" y="3682.05">**</text><text x="1608.18" y="3741.52">**</text><text x="1713.99" y="3741.52">**</text><text x="1713.99" y="3805.48">**</text><text x="988.31" y="3858.65">**</text><text x="1094.62" y="3858.65">**</text><text x="1193.53" y="3858.65">**</text><text x="1300.94" y="3858.65">**</text><text x="1402.96" y="3858.65">**</text><text x="1506.77" y="3858.65">**</text><text x="1608.18" y="3858.65">**</text><text x="1713.99" y="3858.65">**</text><text x="988.31" y="3909.72">**</text><text x="1094.62" y="3909.72">**</text><text x="1193.53" y="3909.72">**</text><text x="1300.94" y="3909.72">**</text><text x="1402.96" y="3909.72">**</text><text x="1506.77" y="3909.72">**</text><text x="1608.18" y="3909.72">**</text><text x="1713.99" y="3909.72">**</text></g>
<g fill="#000" shape-rendering="crispEdges">
<rect x="954.3" y="557.2" width="6.4" height="3368.5"/>
<rect x="1781.4" y="557.2" width="7.1" height="3368.5"/>
<rect x="954.3" y="557.2" width="834.2" height="7.7"/>
<rect x="954.3" y="3918.3" width="834.2" height="7.4"/>
<rect x="925.8" y="585.73" width="28.5" height="7.5"/>
<rect x="925.8" y="642.7" width="28.5" height="7.5"/>
<rect x="925.8" y="699.67" width="28.5" height="7.5"/>
<rect x="925.8" y="756.63" width="28.5" height="7.5"/>
<rect x="925.8" y="813.6" width="28.5" height="7.5"/>
<rect x="925.8" y="870.56" width="28.5" height="7.5"/>
<rect x="925.8" y="927.53" width="28.5" height="7.5"/>
<rect x="925.8" y="984.5" width="28.5" height="7.5"/>
<rect x="925.8" y="1041.46" width="28.5" height="7.5"/>
<rect x="925.8" y="1098.43" width="28.5" height="7.5"/>
<rect x="925.8" y="1155.39" width="28.5" height="7.5"/>
<rect x="925.8" y="1212.36" width="28.5" height="7.5"/>
<rect x="925.8" y="1269.33" width="28.5" height="7.5"/>
<rect x="925.8" y="1326.29" width="28.5" height="7.5"/>
<rect x="925.8" y="1383.26" width="28.5" height="7.5"/>
<rect x="925.8" y="1440.22" width="28.5" height="7.5"/>
<rect x="925.8" y="1497.19" width="28.5" height="7.5"/>
<rect x="925.8" y="1554.16" width="28.5" height="7.5"/>
<rect x="925.8" y="1611.12" width="28.5" height="7.5"/>
<rect x="925.8" y="1668.09" width="28.5" height="7.5"/>
<rect x="925.8" y="1725.06" width="28.5" height="7.5"/>
<rect x="925.8" y="1782.02" width="28.5" height="7.5"/>
<rect x="925.8" y="1838.99" width="28.5" height="7.5"/>
<rect x="925.8" y="1895.95" width="28.5" height="7.5"/>
<rect x="925.8" y="1952.92" width="28.5" height="7.5"/>
<rect x="925.8" y="2009.89" width="28.5" height="7.5"/>
<rect x="925.8" y="2066.85" width="28.5" height="7.5"/>
<rect x="925.8" y="2123.82" width="28.5" height="7.5"/>
<rect x="925.8" y="2180.78" width="28.5" height="7.5"/>
<rect x="925.8" y="2237.75" width="28.5" height="7.5"/>
<rect x="925.8" y="2294.72" width="28.5" height="7.5"/>
<rect x="925.8" y="2351.68" width="28.5" height="7.5"/>
<rect x="925.8" y="2408.65" width="28.5" height="7.5"/>
<rect x="925.8" y="2465.61" width="28.5" height="7.5"/>
<rect x="925.8" y="2522.58" width="28.5" height="7.5"/>
<rect x="925.8" y="2579.55" width="28.5" height="7.5"/>
<rect x="925.8" y="2636.51" width="28.5" height="7.5"/>
<rect x="925.8" y="2693.48" width="28.5" height="7.5"/>
<rect x="925.8" y="2750.44" width="28.5" height="7.5"/>
<rect x="925.8" y="2807.41" width="28.5" height="7.5"/>
<rect x="925.8" y="2864.38" width="28.5" height="7.5"/>
<rect x="925.8" y="2921.34" width="28.5" height="7.5"/>
<rect x="925.8" y="2978.31" width="28.5" height="7.5"/>
<rect x="925.8" y="3035.28" width="28.5" height="7.5"/>
<rect x="925.8" y="3092.24" width="28.5" height="7.5"/>
<rect x="925.8" y="3149.21" width="28.5" height="7.5"/>
<rect x="925.8" y="3206.17" width="28.5" height="7.5"/>
<rect x="925.8" y="3263.14" width="28.5" height="7.5"/>
<rect x="925.8" y="3320.11" width="28.5" height="7.5"/>
<rect x="925.8" y="3377.07" width="28.5" height="7.5"/>
<rect x="925.8" y="3434.04" width="28.5" height="7.5"/>
<rect x="925.8" y="3491" width="28.5" height="7.5"/>
<rect x="925.8" y="3547.97" width="28.5" height="7.5"/>
<rect x="925.8" y="3604.94" width="28.5" height="7.5"/>
<rect x="925.8" y="3661.9" width="28.5" height="7.5"/>
<rect x="925.8" y="3718.87" width="28.5" height="7.5"/>
<rect x="925.8" y="3775.83" width="28.5" height="7.5"/>
<rect x="925.8" y="3832.8" width="28.5" height="7.5"/>
<rect x="925.8" y="3889.77" width="28.5" height="7.5"/>
<rect x="1005.86" y="527.6" width="7.1" height="29.6"/>
<rect x="1109.27" y="527.6" width="7.1" height="29.6"/>
<rect x="1212.68" y="527.6" width="7.1" height="29.6"/>
<rect x="1316.09" y="527.6" width="7.1" height="29.6"/>
<rect x="1419.51" y="527.6" width="7.1" height="29.6"/>
<rect x="1522.92" y="527.6" width="7.1" height="29.6"/>
<rect x="1626.33" y="527.6" width="7.1" height="29.6"/>
<rect x="1729.74" y="527.6" width="7.1" height="29.6"/>
</g>
<g font-family="Liberation Sans, Arial, sans-serif" font-size="41.5" font-weight="bold" font-style="italic" fill="#000"><text transform="translate(905.53,599.48) scale(0.9664,1)" text-anchor="end">Acidaminococcus intestini</text><text transform="translate(908.48,656.45) scale(0.9882,1)" text-anchor="end">Agathobaculum butyriciproducens</text><text transform="translate(906.5,713.42) scale(1.0035,1)" text-anchor="end">Akkermansia muciniphila_D_776786</text><text transform="translate(905.51,770.38) scale(0.9945,1)" text-anchor="end">Alistipes_A_871400 finegoldii</text><text transform="translate(905.51,827.35) scale(0.9917,1)" text-anchor="end">Alistipes_A_871400 onderdonkii</text><text transform="translate(905.51,884.31) scale(0.9871,1)" text-anchor="end">Alistipes_A_871400 shahii</text><text transform="translate(908.49,941.28) scale(0.9965,1)" text-anchor="end">Allisonella histaminiformans</text><text transform="translate(908.47,998.25) scale(0.9831,1)" text-anchor="end">Aphodousia faecalis</text><text transform="translate(905.53,1055.21) scale(0.9721,1)" text-anchor="end">Bacteroidales_unclassified</text><text transform="translate(906.43,1112.18) scale(0.9689,1)" text-anchor="end">Bacteroides_H caccae</text><text transform="translate(908.44,1169.14) scale(0.9685,1)" text-anchor="end">Bacteroides_H cellulosilyticus</text><text transform="translate(908.46,1226.11) scale(0.9779,1)" text-anchor="end">Bacteroides_H faecis</text><text transform="translate(908.45,1283.08) scale(0.9755,1)" text-anchor="end">Bacteroides_H fluxus</text><text transform="translate(908.47,1340.04) scale(0.9871,1)" text-anchor="end">Bacteroides_H fragilis</text><text transform="translate(905.53,1397.01) scale(0.9749,1)" text-anchor="end">Bacteroides_H nordii</text><text transform="translate(908.47,1453.97) scale(0.9841,1)" text-anchor="end">Bacteroides_H ovatus</text><text transform="translate(906.44,1510.94) scale(0.9764,1)" text-anchor="end">Bacteroides_H salyersiae</text><text transform="translate(906.43,1567.91) scale(1.0019,1)" text-anchor="end">Bacteroides_H thetaiotaomicron</text><text transform="translate(905.53,1624.87) scale(0.9693,1)" text-anchor="end">Bacteroides_H_unclassified</text><text transform="translate(908.48,1681.84) scale(0.9898,1)" text-anchor="end">Barnesiella intestinihominis</text><text transform="translate(908.47,1738.81) scale(0.9863,1)" text-anchor="end">Bifidobacterium adolescentis</text><text transform="translate(906.42,1795.77) scale(0.9950,1)" text-anchor="end">Bifidobacterium longum</text><text transform="translate(905.51,1852.74) scale(0.9930,1)" text-anchor="end">Bifidobacterium_388775_unclassified</text><text transform="translate(906.5,1909.7) scale(1.0013,1)" text-anchor="end">CAG-1427 sp000435675</text><text transform="translate(906.5,1966.67) scale(0.9971,1)" text-anchor="end">CAG-177 sp003538135</text><text transform="translate(905.53,2023.64) scale(0.9684,1)" text-anchor="end">CAG-267_unclassified</text><text transform="translate(906.5,2080.6) scale(0.9955,1)" text-anchor="end">CAG-41 sp001941225</text><text transform="translate(905.56,2137.57) scale(0.9407,1)" text-anchor="end">CAJLXD01_unclassified</text><text transform="translate(906.5,2194.53) scale(1.0103,1)" text-anchor="end">Catenibacterium sp000437715</text><text transform="translate(908.44,2251.5) scale(0.9720,1)" text-anchor="end">Coprococcus_A_187866 catus</text><text transform="translate(908.45,2308.47) scale(0.9962,1)" text-anchor="end">Desulfovibrio_R_446353 piger_A</text><text transform="translate(908.46,2365.43) scale(0.9781,1)" text-anchor="end">Dialister invisus</text><text transform="translate(906.5,2422.4) scale(0.9936,1)" text-anchor="end">Dysosmobacter sp000403435</text><text transform="translate(905.52,2479.36) scale(0.9845,1)" text-anchor="end">Enterobacteriaceae_A_unclassified</text><text transform="translate(906.4,2536.33) scale(0.9848,1)" text-anchor="end">Eubacterium_G ventriosum</text><text transform="translate(905.53,2593.3) scale(0.9712,1)" text-anchor="end">Eubacterium_G_unclassified</text><text transform="translate(906.39,2650.26) scale(0.9828,1)" text-anchor="end">Eubacterium_J plexicaudatum</text><text transform="translate(908.48,2707.23) scale(0.9923,1)" text-anchor="end">Evtepia gabavorous</text><text transform="translate(905.54,2764.19) scale(0.9647,1)" text-anchor="end">Faecalibacillus_unclassified</text><text transform="translate(905.5,2821.16) scale(0.9991,1)" text-anchor="end">Gammaproteobacteria_unclassified</text><text transform="translate(905.51,2878.13) scale(0.9921,1)" text-anchor="end">Gemmiger_A_73129_unclassified</text><text transform="translate(908.51,2935.09) scale(1.0061,1)" text-anchor="end">Holdemanella biformis</text><text transform="translate(905.54,2992.06) scale(0.9643,1)" text-anchor="end">Lachnospiraceae_unclassified</text><text transform="translate(905.54,3049.03) scale(0.9643,1)" text-anchor="end">Lachnospiraceae_unclassified</text><text transform="translate(905.52,3105.99) scale(0.9803,1)" text-anchor="end">Negativicutes_unclassified</text><text transform="translate(908.45,3162.96) scale(0.9740,1)" text-anchor="end">Odoribacter splanchnicus</text><text transform="translate(908.51,3219.92) scale(1.0035,1)" text-anchor="end">Parasutterella excrementihominis</text><text transform="translate(905.51,3276.89) scale(0.9890,1)" text-anchor="end">Parasutterella_unclassified</text><text transform="translate(905.51,3333.86) scale(0.9853,1)" text-anchor="end">Peptostreptococcaceae_256921_unclassified</text><text transform="translate(906.41,3390.82) scale(0.9934,1)" text-anchor="end">Phascolarctobacterium_A faecium</text><text transform="translate(908.47,3447.79) scale(0.9856,1)" text-anchor="end">Phascolarctobacterium_A succinatutens</text><text transform="translate(905.52,3504.75) scale(0.9791,1)" text-anchor="end">Phascolarctobacterium_A_unclassified</text><text transform="translate(905.51,3561.72) scale(0.9940,1)" text-anchor="end">Phocaeicola_A_858004 dorei</text><text transform="translate(905.51,3618.69) scale(0.9852,1)" text-anchor="end">Prevotella copri</text><text transform="translate(905.54,3675.65) scale(0.9551,1)" text-anchor="end">Pseudoruminococcus_A_unclassified</text><text transform="translate(905.54,3732.62) scale(0.9614,1)" text-anchor="end">Roseburia_unclassified</text><text transform="translate(908.41,3789.58) scale(0.9542,1)" text-anchor="end">Ruminococcus_D bicirculans</text><text transform="translate(906.56,3846.55) scale(1.0085,1)" text-anchor="end">Sutterella wadsworthensis_A_565807</text><text transform="translate(907.54,3903.52) scale(1.0098,1)" text-anchor="end">Sutterella wadsworthensis_A_565869</text></g>
<g font-family="Liberation Sans, Arial, sans-serif" font-size="57" fill="#000"><text transform="translate(1023.71,508) rotate(-90)" letter-spacing="2.04">‘PremA129’</text><text transform="translate(1127.12,508) rotate(-90)" letter-spacing="2.52">‘Scilate’</text><text transform="translate(1230.53,508) rotate(-90)" letter-spacing="1.97">‘Monty’s Surprise’</text><text transform="translate(1333.94,508) rotate(-90)" letter-spacing="3.10">‘Hetlina’</text><text transform="translate(1437.36,508) rotate(-90)" letter-spacing="2.21">‘Golden Hornet’</text><text transform="translate(1540.77,508) rotate(-90)" letter-spacing="1.57">‘PFR001’</text><text transform="translate(1644.18,508) rotate(-90)" letter-spacing="1.89">‘PremP009’</text><text transform="translate(1747.59,509.5) rotate(-90)" letter-spacing="3.16">Inulin</text></g>
<g shape-rendering="crispEdges"><rect x="1960" y="560" width="115" height="99" fill="#FF0000"/><rect x="1960" y="659" width="115" height="99" fill="#FF3333"/><rect x="1960" y="758" width="115" height="99" fill="#FF7373"/><rect x="1960" y="857" width="115" height="98" fill="#FFAAAA"/><rect x="1960" y="955" width="115" height="99" fill="#FFE6E6"/><rect x="1960" y="1054" width="115" height="99" fill="#E6E6FF"/><rect x="1960" y="1153" width="115" height="98" fill="#AAAAFF"/><rect x="1960" y="1251" width="115" height="99" fill="#7373FF"/><rect x="1960" y="1350" width="115" height="99" fill="#3333FF"/><rect x="1960" y="1449" width="115" height="99" fill="#0000FF"/><rect x="1957.6" y="557.5" width="5.9" height="993.1" fill="#000"/><rect x="2071.7" y="557.5" width="5.9" height="993.1" fill="#000"/><rect x="1957.6" y="557.5" width="120" height="6" fill="#000"/><rect x="1957.6" y="1544.7" width="120" height="5.9" fill="#000"/><rect x="2077" y="557.5" width="29.6" height="6" fill="#000"/><rect x="2077" y="656.21" width="29.6" height="6" fill="#000"/><rect x="2077" y="754.92" width="29.6" height="6" fill="#000"/><rect x="2077" y="853.63" width="29.6" height="6" fill="#000"/><rect x="2077" y="952.34" width="29.6" height="6" fill="#000"/><rect x="2077" y="1051.05" width="29.6" height="6" fill="#000"/><rect x="2077" y="1149.76" width="29.6" height="6" fill="#000"/><rect x="2077" y="1248.47" width="29.6" height="6" fill="#000"/><rect x="2077" y="1347.18" width="29.6" height="6" fill="#000"/><rect x="2077" y="1445.89" width="29.6" height="6" fill="#000"/><rect x="2077" y="1544.6" width="29.6" height="6" fill="#000"/></g><g font-family="Liberation Sans, Arial, sans-serif" font-size="48" font-weight="bold" fill="#000"><text x="2118" y="576.3">5.0</text><text x="2118" y="675.01">4.0</text><text x="2118" y="773.72">3.0</text><text x="2118" y="872.43">2.0</text><text x="2118" y="971.14">1.0</text><text x="2118" y="1069.85">0.0</text><text x="2118" y="1168.56">−1.0</text><text x="2118" y="1267.27">−2.0</text><text x="2118" y="1365.98">−3.0</text><text x="2118" y="1464.69">−4.0</text><text x="2118" y="1563.4">−5.0</text></g>
</svg></body></html>
